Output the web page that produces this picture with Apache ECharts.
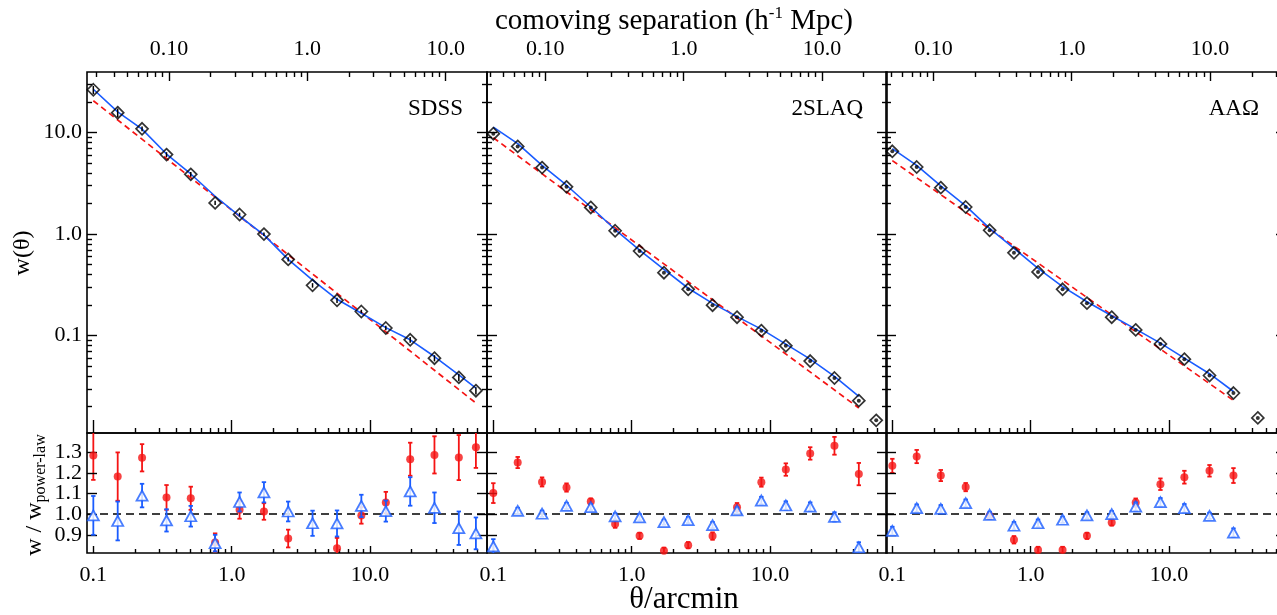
<!DOCTYPE html>
<html><head><meta charset="utf-8">
<script src="https://cdn.jsdelivr.net/npm/echarts@6/dist/echarts.min.js"></script>
<style>html,body{margin:0;padding:0;background:#fff}#c{width:1277px;height:615px}</style>
</head><body><div id="c"></div>
<script>
// ---------------- DATA ----------------
const panelNames = ['SDSS', '2SLAQ', 'AAΩ'];

// angular separation bins (arcmin)
const thetaSDSS  = [0.1, 0.15, 0.225, 0.338, 0.506, 0.759, 1.14, 1.71, 2.56, 3.84, 5.77, 8.65, 13.0, 19.5, 29.2, 43.8, 58.2];
const theta2SLAQ = [0.1, 0.15, 0.225, 0.338, 0.506, 0.759, 1.14, 1.71, 2.56, 3.84, 5.77, 8.65, 13.0, 19.5, 29.2, 43.8, 58.5];
const thetaAAO   = [0.1, 0.15, 0.224, 0.339, 0.505, 0.757, 1.13, 1.70, 2.55, 3.85, 5.74, 8.66, 12.9, 19.6, 29.2, 43.8];

// measured w(theta) (black diamonds)
const wSDSS    = [26.4, 15.7, 10.9, 6.07, 3.88, 2.03, 1.56, 1.00, 0.564, 0.313, 0.223, 0.173, 0.119, 0.091, 0.060, 0.0388, 0.0287];
const wErrSDSS = [2.4, 1.55, 0.57, 0.34, 0.20, 0.10, 0.066, 0.04, 0.028, 0.016, 0.013, 0.007, 0.006, 0.0058, 0.0042, 0.0033, 0.0023];
const w2SLAQ   = [9.75, 7.31, 4.52, 2.92, 1.83, 1.08, 0.681, 0.417, 0.286, 0.1995, 0.152, 0.112, 0.0794, 0.0562, 0.0383, 0.0229, 0.01466];
const wAAO     = [6.54, 4.58, 2.87, 1.85, 1.09, 0.655, 0.424, 0.286, 0.209, 0.152, 0.114, 0.083, 0.0587, 0.0405, 0.0272, 0.0155];

// blue solid model curve (values at the first bins)
const modelSDSS  = [26.7, 16.0, 10.8, 6.15, 3.91, 2.36, 1.50, 0.984, 0.564, 0.353, 0.228, 0.166, 0.120, 0.091, 0.0623, 0.0412, 0.0305];
const model2SLAQ = [11.3, 7.78, 4.76, 3.03, 1.85, 1.11, 0.697, 0.450, 0.293, 0.208, 0.154, 0.116, 0.0825, 0.0588, 0.0397, 0.0252];
const modelAAO   = [6.95, 4.76, 2.98, 1.90, 1.14, 0.724, 0.460, 0.304, 0.216, 0.157, 0.116, 0.0844, 0.0601, 0.0422, 0.0282];

// red dashed power law (end points)
const plThetaSDSS  = [0.1, 58.2];  const plSDSS  = [20.6, 0.0217];
const plTheta2SLAQ = [0.1, 43.8];  const pl2SLAQ = [8.9, 0.0194];
const plThetaAAO   = [0.1, 29.2];  const plAAO   = [5.3, 0.0230];

// lower panels: red circles (w / w_power-law) and blue triangles
const rPLSDSS     = [1.284, 1.182, 1.273, 1.081, 1.077, 0.863, 1.021, 1.013, 0.882, null, 0.835, 0.994, 1.056, 1.266, 1.287, 1.274, 1.324];
const rPLErrSDSS  = [0.118, 0.117, 0.066, 0.060, 0.056, 0.044, 0.043, 0.040, 0.043, null, 0.050, 0.040, 0.052, 0.080, 0.090, 0.109, 0.100];
const rModSDSS    = [0.994, 0.967, 1.090, 0.970, 0.990, 0.860, 1.059, 1.106, 1.013, 0.956, 0.955, 1.040, 1.015, 1.110, 1.031, 0.932, 0.907];
const rModErrSDSS = [0.094, 0.094, 0.057, 0.054, 0.050, 0.040, 0.046, 0.049, 0.048, 0.061, 0.063, 0.054, 0.051, 0.069, 0.074, 0.081, 0.077];

const rPL2SLAQ     = [1.102, 1.250, 1.156, 1.129, 1.061, 0.952, 0.895, 0.823, 0.850, 0.894, 1.034, 1.155, 1.216, 1.294, 1.331, 1.194, null];
const rPLErr2SLAQ  = [0.048, 0.027, 0.022, 0.020, 0.015, 0.018, 0.015, 0.015, 0.015, 0.018, 0.020, 0.022, 0.030, 0.030, 0.043, 0.054, null];
const rMod2SLAQ    = [0.844, 1.016, 1.002, 1.040, 1.034, 0.989, 0.985, 0.961, 0.971, 0.947, 1.018, 1.066, 1.042, 1.037, 0.987, 0.839, null];
const rModErr2SLAQ = [0.035, 0.015, 0.015, 0.015, 0.015, 0.015, 0.015, 0.012, 0.015, 0.015, 0.015, 0.018, 0.020, 0.020, 0.022, 0.025, null];

const rPLAAO     = [1.234, 1.279, 1.187, 1.131, 0.992, 0.876, 0.827, 0.827, 0.895, 0.960, 1.056, 1.145, 1.179, 1.210, 1.187, null];
const rPLErrAAO  = [0.034, 0.032, 0.027, 0.020, 0.015, 0.018, 0.015, 0.015, 0.015, 0.015, 0.020, 0.028, 0.031, 0.028, 0.036, null];
const rModAAO    = [0.919, 1.029, 1.026, 1.053, 0.997, 0.944, 0.956, 0.973, 0.994, 1.000, 1.037, 1.058, 1.029, 0.992, 0.911, null];
const rModErrAAO = [0.020, 0.018, 0.018, 0.018, 0.015, 0.018, 0.018, 0.015, 0.015, 0.015, 0.020, 0.020, 0.020, 0.015, 0.020, null];

// arcmin per h^-1 Mpc for the top (comoving) axis of each panel
const arcminPerMpc = [3.52, 2.375, 1.98];

// axis ranges and ticks
const thetaRange = [0.09, 70];
const wRange = [0.011, 39.5];
const ratioRange = [0.812, 1.393];
const thetaTickVals = [0.1, 1, 10];
const thetaTickLabels = ['0.1', '1.0', '10.0'];
const mpcTickVals = [0.1, 1, 10];
const mpcTickLabels = ['0.10', '1.0', '10.0'];
const wTickVals = [0.1, 1, 10];
const wTickLabels = ['0.1', '1.0', '10.0'];
const ratioTickVals = [0.9, 1.0, 1.1, 1.2, 1.3];
const ratioTickLabels = ['0.9', '1.0', '1.1', '1.2', '1.3'];

// ---------------- LAYOUT / STYLE ----------------
const FONT = 'Liberation Serif';
const panelLeft = [87, 487, 886];
const PW = 400, TOP_Y = 72, TOP_H = 361, BOT_Y = 433, BOT_H = 120;
const RED = '#f51414', BLUE = '#1a5cff';

const panels = [
  {theta: thetaSDSS, w: wSDSS, wErr: wErrSDSS, model: modelSDSS, plT: plThetaSDSS, pl: plSDSS, rPL: rPLSDSS, rPLE: rPLErrSDSS, rM: rModSDSS, rME: rModErrSDSS, dots: false},
  {theta: theta2SLAQ, w: w2SLAQ, wErr: null, model: model2SLAQ, plT: plTheta2SLAQ, pl: pl2SLAQ, rPL: rPL2SLAQ, rPLE: rPLErr2SLAQ, rM: rMod2SLAQ, rME: rModErr2SLAQ, dots: true},
  {theta: thetaAAO, w: wAAO, wErr: null, model: modelAAO, plT: plThetaAAO, pl: plAAO, rPL: rPLAAO, rPLE: rPLErrAAO, rM: rModAAO, rME: rModErrAAO, dots: true}
];

function minorVals(min, max) {
  const out = [];
  for (let e = -3; e <= 3; e++) for (let m = 2; m <= 9; m++) {
    const v = +(m * Math.pow(10, e)).toPrecision(3);
    if (v > min * 1.0001 && v < max * 0.9999) out.push(v);
  }
  return out;
}
function inRange(vals, min, max) { return vals.filter(v => v >= min && v <= max); }

const grids = [], xAxes = [], yAxes = [], series = [];

function mkAxis(kind, type, pos, grid, min, max, ticks, len, label) {
  const a = {
    type: type, position: pos, gridIndex: grid, min: min, max: max,
    axisLine: {show: false, onZero: false},
    splitLine: {show: false}, minorTick: {show: false}, minorSplitLine: {show: false},
    axisTick: ticks ? {show: true, inside: true, length: len, interval: 0, customValues: ticks, lineStyle: {color: '#000', width: 1.4}} : {show: false},
    axisLabel: {show: false}, axisPointer: {show: false}, silent: true, z: 5
  };
  if (type === 'log') a.logBase = 10;
  if (label) {
    a.axisLabel = {
      show: true, customValues: label.vals, margin: label.margin, interval: 0,
      showMinLabel: true, showMaxLabel: true, hideOverlap: false,
      formatter: function (v) {
        let best = 0, bd = Infinity;
        label.vals.forEach((t, i) => { const d = Math.abs(Math.log(v) - Math.log(t)); if (d < bd) { bd = d; best = i; } });
        return label.text[best];
      },
      fontFamily: FONT, fontSize: 22, color: '#000'
    };
  }
  const arr = kind === 'x' ? xAxes : yAxes;
  arr.push(a);
  return arr.length - 1;
}

function errRender(color, capW, lw) {
  return function (params, api) {
    const x = api.value(0), y = api.value(1), e = api.value(2);
    const lo = api.coord([x, y - e]), hi = api.coord([x, y + e]);
    const style = {stroke: color, lineWidth: lw};
    return {type: 'group', children: [
      {type: 'line', shape: {x1: lo[0], y1: lo[1], x2: hi[0], y2: hi[1]}, style: style},
      {type: 'line', shape: {x1: hi[0] - capW, y1: hi[1], x2: hi[0] + capW, y2: hi[1]}, style: style},
      {type: 'line', shape: {x1: lo[0] - capW, y1: lo[1], x2: lo[0] + capW, y2: lo[1]}, style: style}
    ]};
  };
}

panels.forEach((P, p) => {
  const L = panelLeft[p];
  const gTop = grids.length;
  grids.push({left: L, top: TOP_Y, width: PW, height: TOP_H, show: true, borderColor: '#000', borderWidth: 1.6, backgroundColor: 'transparent', containLabel: false, outerBoundsMode: 'none'});
  const gBot = grids.length;
  grids.push({left: L, top: BOT_Y, width: PW, height: BOT_H, show: true, borderColor: '#000', borderWidth: 1.6, backgroundColor: 'transparent', containLabel: false, outerBoundsMode: 'none'});

  const [tmin, tmax] = thetaRange;
  const mmin = tmin / arcminPerMpc[p], mmax = tmax / arcminPerMpc[p];

  // ---- top panel axes
  const xT = mkAxis('x', 'log', 'bottom', gTop, tmin, tmax, inRange(thetaTickVals, tmin, tmax), 13, null);
  mkAxis('x', 'log', 'bottom', gTop, tmin, tmax, minorVals(tmin, tmax), 5, null);
  mkAxis('x', 'log', 'top', gTop, mmin, mmax, inRange(mpcTickVals, mmin, mmax), 9,
    {vals: inRange(mpcTickVals, mmin, mmax), text: mpcTickLabels.filter((t, i) => mpcTickVals[i] >= mmin && mpcTickVals[i] <= mmax), margin: 12});
  mkAxis('x', 'log', 'top', gTop, mmin, mmax, minorVals(mmin, mmax), 5, null);
  const yT = mkAxis('y', 'log', 'left', gTop, wRange[0], wRange[1], wTickVals, 10,
    p === 0 ? {vals: wTickVals, text: wTickLabels, margin: 5} : null);
  mkAxis('y', 'log', 'left', gTop, wRange[0], wRange[1], minorVals(wRange[0], wRange[1]), 5, null);
  mkAxis('y', 'log', 'right', gTop, wRange[0], wRange[1], wTickVals, 10, null);
  mkAxis('y', 'log', 'right', gTop, wRange[0], wRange[1], minorVals(wRange[0], wRange[1]), 5, null);

  // ---- bottom panel axes
  const xB = mkAxis('x', 'log', 'bottom', gBot, tmin, tmax, inRange(thetaTickVals, tmin, tmax), 7,
    {vals: thetaTickVals, text: thetaTickLabels, margin: 11});
  mkAxis('x', 'log', 'bottom', gBot, tmin, tmax, minorVals(tmin, tmax), 4, null);
  // ratio labels split over two axes (alternating) so that none is hidden as overlapping
  const oddIdx = [0, 2, 4], evenIdx = [1, 3];
  const yB = mkAxis('y', 'value', 'left', gBot, ratioRange[0], ratioRange[1], ratioTickVals, 10,
    p === 0 ? {vals: oddIdx.map(i => ratioTickVals[i]), text: oddIdx.map(i => ratioTickLabels[i]), margin: 5} : null);
  if (p === 0) {
    mkAxis('y', 'value', 'left', gBot, ratioRange[0], ratioRange[1], null, 0,
      {vals: evenIdx.map(i => ratioTickVals[i]), text: evenIdx.map(i => ratioTickLabels[i]), margin: 5});
  }
  mkAxis('y', 'value', 'right', gBot, ratioRange[0], ratioRange[1], ratioTickVals, 10, null);

  // ---- top panel series
  series.push({type: 'line', xAxisIndex: xT, yAxisIndex: yT, symbol: 'none', silent: true, z: 3,
    data: P.plT.map((t, i) => [t, P.pl[i]]),
    lineStyle: {color: RED, width: 1.7, type: [6, 4]}});
  series.push({type: 'line', xAxisIndex: xT, yAxisIndex: yT, symbol: 'none', silent: true, z: 4,
    data: P.model.map((m, i) => [P.theta[i], m]),
    lineStyle: {color: BLUE, width: 1.6}});
  if (P.wErr) {
    series.push({type: 'custom', xAxisIndex: xT, yAxisIndex: yT, silent: true, z: 6,
      renderItem: errRender('#000', 0, 1.5),
      data: P.w.map((v, i) => [P.theta[i], v, P.wErr[i]])});
  }
  series.push({type: 'scatter', xAxisIndex: xT, yAxisIndex: yT, symbol: 'diamond', symbolSize: 12, clip: false, silent: true, z: 7,
    itemStyle: {color: 'rgba(0,0,0,0)', borderColor: '#000', borderWidth: 1.7},
    data: P.w.map((v, i) => [P.theta[i], v])});
  if (P.dots) {
    series.push({type: 'scatter', xAxisIndex: xT, yAxisIndex: yT, symbol: 'circle', symbolSize: 4, clip: false, silent: true, z: 8,
      itemStyle: {color: '#000'},
      data: P.w.map((v, i) => [P.theta[i], v])});
  }

  // ---- bottom panel series
  const redPts = [], redErr = [], bluePts = [], blueErr = [];
  P.rPL.forEach((v, i) => { if (v !== null) { redPts.push([P.theta[i], v]); redErr.push([P.theta[i], v, P.rPLE[i]]); } });
  P.rM.forEach((v, i) => { if (v !== null) { bluePts.push([P.theta[i], v]); blueErr.push([P.theta[i], v, P.rME[i]]); } });

  series.push({type: 'line', xAxisIndex: xB, yAxisIndex: yB, data: [], silent: true, z: 3,
    markLine: {silent: true, symbol: 'none', label: {show: false},
      lineStyle: {color: '#000', type: [8, 5], width: 1.6}, data: [{yAxis: 1.0}]}});
  series.push({type: 'custom', xAxisIndex: xB, yAxisIndex: yB, clip: true, silent: true, z: 5,
    renderItem: errRender(RED, 2.2, 1.8), data: redErr});
  series.push({type: 'scatter', xAxisIndex: xB, yAxisIndex: yB, clip: true, silent: true, z: 6,
    symbol: 'circle', symbolSize: 8, itemStyle: {color: RED}, data: redPts});
  series.push({type: 'custom', xAxisIndex: xB, yAxisIndex: yB, clip: true, silent: true, z: 7,
    renderItem: errRender(BLUE, 2.2, 1.8), data: blueErr});
  series.push({type: 'scatter', xAxisIndex: xB, yAxisIndex: yB, clip: true, silent: true, z: 8,
    symbol: 'triangle', symbolSize: [11, 10], itemStyle: {color: '#fff', borderColor: BLUE, borderWidth: 1.8}, data: bluePts});
});

const txt = (x, y, text, size, extra) => Object.assign({type: 'text', x: x, y: y, silent: true, z: 100,
  style: Object.assign({text: text, fontFamily: FONT, fontSize: size, fill: '#000', textAlign: 'center', textVerticalAlign: 'middle'}, extra || {})});

const graphic = [
  txt(674, 21, 'comoving separation (h{sup|-1} Mpc)', 29, {rich: {sup: {fontFamily: FONT, fontSize: 17, padding: [0, 0, 15, 0]}}}),
  txt(684, 600, 'θ/arcmin', 31),
  Object.assign(txt(23, 253, 'w(θ)', 24), {rotation: Math.PI / 2}),
  Object.assign(txt(35, 495, 'w / w{sub|power-law}', 24, {rich: {sub: {fontFamily: FONT, fontSize: 16, padding: [12, 0, 0, 0]}}}), {rotation: Math.PI / 2})
];
panelNames.forEach((n, p) => {
  graphic.push(txt(panelLeft[p] + (p === 2 ? 373 : 376), 109, n, 23, {textAlign: 'right'}));
});

const chart = echarts.init(document.getElementById('c'), null, {renderer: 'canvas'});
chart.setOption({
  animation: false,
  backgroundColor: '#fff',
  grid: grids, xAxis: xAxes, yAxis: yAxes, series: series, graphic: graphic
});
</script>
</body></html>
